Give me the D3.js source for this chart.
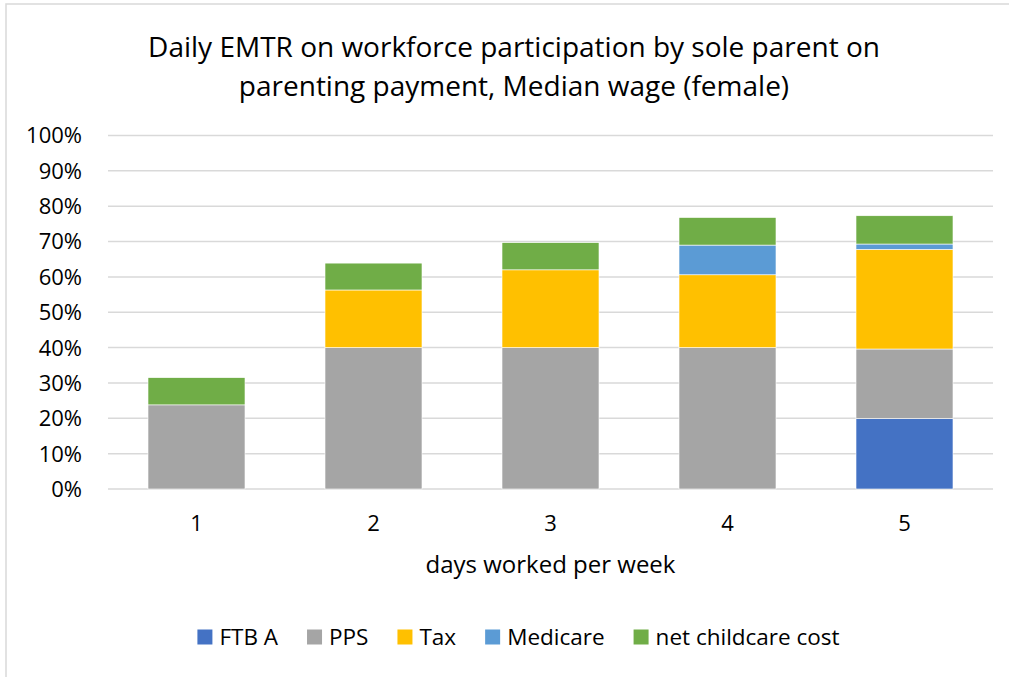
<!DOCTYPE html>
<html>
<head>
<meta charset="utf-8">
<script src="https://cdn.jsdelivr.net/npm/d3@7"></script>
<style>
    body { margin: 0; background: #fff; }
    svg { display: block; font-family: "Open Sans", "Noto Sans", sans-serif; }
</style>
</head>
<body>
<svg id="chart"></svg>
<script>
// 日数ごとの EMTR 内訳 (%)
const days       = ['1', '2', '3', '4', '5'];
const ftbA       = [0, 0, 0, 0, 19.9];
const pps        = [23.8, 40, 40, 40, 19.7];
const tax        = [0, 16.3, 22, 20.6, 28.2];
const medicare   = [0, 0, 0, 8.4, 1.5];
const childcare  = [7.7, 7.6, 7.7, 7.8, 8.0];
const seriesNames = ['FTB A', 'PPS', 'Tax', 'Medicare', 'net childcare cost'];
const yTicks     = [0, 10, 20, 30, 40, 50, 60, 70, 80, 90, 100];

const colors = ['#4472C4', '#A5A5A5', '#FFC000', '#5B9BD5', '#70AD47'];
const W = 1009, H = 677;
const m = { left: 108, right: 16, top: 135.5, bottom: 188 };

let svg = d3.select('#chart').attr('width', W).attr('height', H);

// 外枠 (上と左だけ見える)
svg.append('rect')
    .attr('x', 6).attr('y', 4)
    .attr('width', W + 10).attr('height', H + 10)
    .attr('fill', 'none')
    .attr('stroke', '#D9D9D9')
    .attr('stroke-width', 1.5);

let rows = days.map((d, i) => ({
    day: d,
    'FTB A': ftbA[i],
    'PPS': pps[i],
    'Tax': tax[i],
    'Medicare': medicare[i],
    'net childcare cost': childcare[i]
}));
let stacked = d3.stack().keys(seriesNames)(rows);

let x = d3.scaleBand()
    .domain(days)
    .range([m.left, W - m.right])
    .paddingInner(0.452)
    .paddingOuter(0.226);
let y = d3.scaleLinear()
    .domain([0, 100])
    .range([H - m.bottom, m.top]);

// グリッド
svg.append('g')
    .selectAll('line')
    .data(yTicks)
    .enter()
    .append('line')
    .attr('x1', m.left).attr('x2', W - m.right)
    .attr('y1', d => y(d)).attr('y2', d => y(d))
    .attr('stroke', '#D9D9D9')
    .attr('stroke-width', 1.5);

// 棒
svg.append('g')
    .selectAll('g')
    .data(stacked)
    .enter()
    .append('g')
    .attr('fill', (d, i) => colors[i])
    .selectAll('rect')
    .data(d => d)
    .enter()
    .filter(d => d[1] - d[0] > 0)
    .append('rect')
    .attr('x', d => x(d.data.day))
    .attr('width', x.bandwidth())
    .attr('y', d => y(d[1]))
    .attr('height', d => y(d[0]) - y(d[1]))
    .attr('stroke', '#fff')
    .attr('stroke-width', 0.6);

// Y 軸ラベル
svg.append('g')
    .selectAll('text')
    .data(yTicks)
    .enter()
    .append('text')
    .attr('x', 82)
    .attr('y', d => y(d))
    .attr('dy', '0.36em')
    .attr('text-anchor', 'end')
    .attr('font-size', 22)
    .attr('fill', '#000')
    .text(d => d + '%');

// X 軸ラベル
svg.append('g')
    .selectAll('text')
    .data(days)
    .enter()
    .append('text')
    .attr('x', d => x(d) + x.bandwidth() / 2)
    .attr('y', 531)
    .attr('text-anchor', 'middle')
    .attr('font-size', 22)
    .attr('fill', '#000')
    .text(d => d);

svg.append('text')
    .attr('x', (m.left + W - m.right) / 2)
    .attr('y', 573)
    .attr('text-anchor', 'middle')
    .attr('font-size', 24)
    .attr('fill', '#000')
    .text('days worked per week');

// タイトル
let title = svg.append('text')
    .attr('text-anchor', 'middle')
    .attr('font-size', 28)
    .attr('fill', '#000');
title.append('tspan').attr('x', 514).attr('y', 57)
    .text('Daily EMTR on workforce participation by sole parent on');
title.append('tspan').attr('x', 514).attr('y', 96)
    .text('parenting payment, Median wage (female)');

// 凡例
let legend = svg.append('g');
let lx = 0;
seriesNames.forEach((name, i) => {
    let item = legend.append('g').attr('transform', 'translate(' + lx + ',0)');
    item.append('rect')
        .attr('x', 0).attr('y', -7.5)
        .attr('width', 15).attr('height', 15)
        .attr('fill', colors[i]);
    let t = item.append('text')
        .attr('x', 22)
        .attr('dy', '0.36em')
        .attr('font-size', 22.5)
        .attr('fill', '#000')
        .text(name);
    lx += 22 + t.node().getComputedTextLength() + 29;
});
let legendWidth = lx - 29;
legend.attr('transform', 'translate(' + (518.5 - legendWidth / 2) + ',637)');
</script>
</body>
</html>
